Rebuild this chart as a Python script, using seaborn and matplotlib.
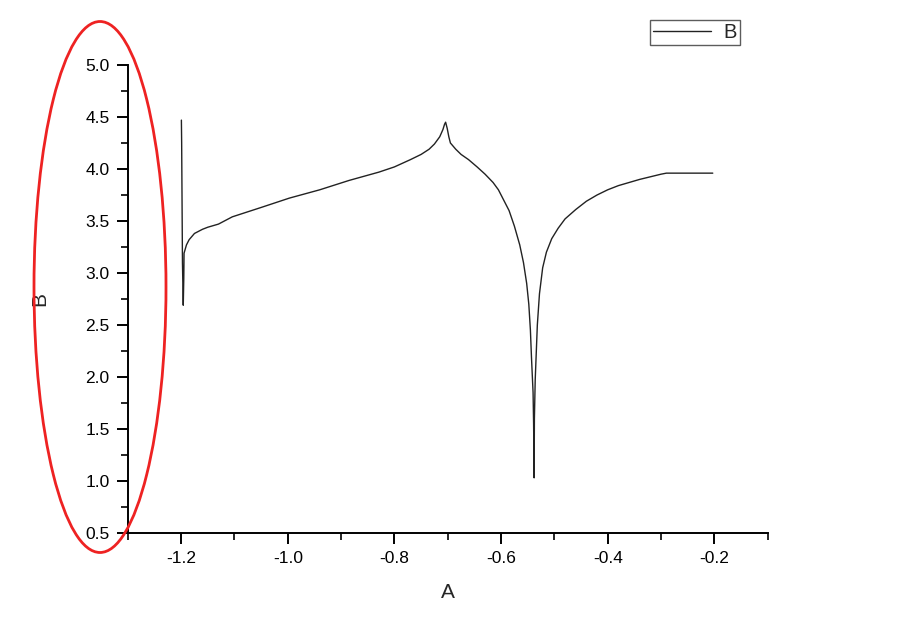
#!/usr/bin/env python3
"""Line plot of B against A, with the y axis circled."""

import matplotlib.pyplot as plt
from matplotlib.patches import Ellipse
from matplotlib.ticker import MultipleLocator
import pandas as pd
import seaborn as sns


A = [
    -1.1995, -1.1990, -1.1975, -1.1960, -1.1950, -1.1945, -1.190, -1.185,
    -1.175, -1.160, -1.150, -1.130, -1.104, -1.050, -0.997, -0.940,
    -0.885, -0.829, -0.800, -0.770, -0.750, -0.735, -0.725, -0.715,
    -0.709, -0.706, -0.704, -0.701, -0.698, -0.695, -0.685, -0.675,
    -0.661, -0.645, -0.630, -0.615, -0.605, -0.595, -0.585, -0.575,
    -0.565, -0.558, -0.552, -0.548, -0.545, -0.543, -0.540, -0.539,
    -0.538, -0.5375, -0.536, -0.532, -0.528, -0.522, -0.515, -0.505,
    -0.493, -0.480, -0.460, -0.440, -0.420, -0.400, -0.380, -0.360,
    -0.340, -0.320, -0.300, -0.290, -0.250, -0.203,
]
B = [
    4.47, 4.25, 3.10, 2.69, 2.95, 3.19, 3.27, 3.32,
    3.38, 3.42, 3.44, 3.47, 3.54, 3.63, 3.72, 3.80,
    3.89, 3.97, 4.02, 4.09, 4.14, 4.19, 4.24, 4.31,
    4.38, 4.43, 4.45, 4.39, 4.31, 4.25, 4.19, 4.14,
    4.09, 4.02, 3.95, 3.87, 3.80, 3.70, 3.60, 3.45,
    3.27, 3.10, 2.90, 2.70, 2.45, 2.19, 1.85, 1.55,
    1.03, 1.60, 1.97, 2.50, 2.80, 3.05, 3.20, 3.33,
    3.43, 3.52, 3.61, 3.69, 3.75, 3.80, 3.84, 3.87,
    3.90, 3.925, 3.95, 3.96, 3.96, 3.96,
]


def main() -> None:
    sns.set_style("ticks")
    plt.rcParams["font.family"] = ["Liberation Sans", "DejaVu Sans"]

    df = pd.DataFrame({"A": A, "B": B})

    fig = plt.figure(figsize=(9, 6.19), dpi=100)
    ax = fig.add_axes([0.142, 0.139, 0.711, 0.756])
    sns.lineplot(data=df, x="A", y="B", sort=False, estimator=None,
                 color="#222222", linewidth=1.0, label="B", ax=ax)

    ax.set_xlim(-1.3, -0.1)
    ax.set_ylim(0.5, 5.0)
    ax.xaxis.set_minor_locator(MultipleLocator(0.1))
    ax.yaxis.set_major_locator(MultipleLocator(0.5))
    ax.yaxis.set_minor_locator(MultipleLocator(0.25))
    ax.set_xticks([-1.2, -1.0, -0.8, -0.6, -0.4, -0.2])
    ax.set_xticklabels(["-1.2", "-1.0", "-0.8", "-0.6", "-0.4", "-0.2"])

    for side in ("top", "right"):
        ax.spines[side].set_visible(False)
    for side in ("left", "bottom"):
        ax.spines[side].set_linewidth(1.4)
        ax.spines[side].set_color("black")
    ax.tick_params(which="major", length=8, width=1.4, labelsize=12.5,
                   colors="black", pad=5)
    ax.tick_params(which="minor", length=5, width=1.2, colors="black")
    ax.set_xlabel("A", fontsize=15, labelpad=12)
    ax.set_ylabel("B", fontsize=15, labelpad=26)

    ax.legend(loc="upper right", bbox_to_anchor=(0.956, 1.096), fontsize=14.5,
              frameon=True, fancybox=False, edgecolor="#333333",
              handlelength=2.9, borderpad=0.15, handletextpad=0.6,
              borderaxespad=0)

    ring = Ellipse((100 / 900, 1 - 287 / 619), 132 / 900, 531 / 619,
                   transform=fig.transFigure, fill=False, edgecolor="#ee2222",
                   linewidth=2.0)
    fig.patches.append(ring)

    fig.savefig("out.png", dpi=100)
    plt.close(fig)


if __name__ == "__main__":
    main()
